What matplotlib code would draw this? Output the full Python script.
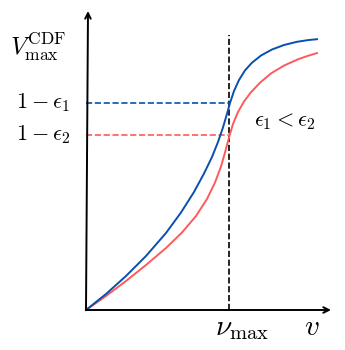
import matplotlib.pyplot as plt

plt.rcParams['mathtext.fontset'] = 'cm'

# curve points (origin at the axes corner)
blue_x = [0, 20, 40, 60, 80, 95, 108, 118, 126, 132, 137, 141, 144, 148, 153, 159, 166, 175, 186, 198, 211, 222, 231]
blue_y = [0, 16, 34, 54, 77, 97.5, 118, 136.5, 153, 168, 182.6, 196.2, 207,
          219, 230, 239.6, 247.3, 254.5, 260.5, 265, 268.2, 269.9, 270.8]
red_x = [0, 20, 40, 60, 80, 96, 110, 121, 129, 135, 139, 143, 147, 152, 158, 165, 174, 185, 198, 212, 222, 231]
red_y = [0, 14, 29, 45, 62, 77.5, 94, 111, 127.5, 143.5, 157.5, 172.5,
         186, 198, 208.5, 217.8, 227.3, 236.6, 244.4, 250.7, 254.2, 256.9]

nu_max = 143
level1 = 207
level2 = 175
blue = '#0a4fae'
red = '#ff5a5a'

fig = plt.figure(figsize=(3.45, 3.5), dpi=100)
ax = fig.add_axes([0, 0, 1, 1])
ax.set_xlim(-86, 259)
ax.set_ylim(-40, 310)
ax.axis('off')

# axes with arrows
ax.annotate('', xy=(245, 0), xytext=(0, 0),
            arrowprops=dict(arrowstyle='->', lw=1.4, color='black', shrinkA=0, shrinkB=0))
ax.annotate('', xy=(2, 299), xytext=(0, 0),
            arrowprops=dict(arrowstyle='->', lw=1.4, color='black', shrinkA=0, shrinkB=0))

# dashed guides
ax.plot([nu_max, nu_max], [0, 275], color='black', ls='--', lw=1.2)
ax.plot([0, nu_max], [level1, level1], color=blue, ls='--', lw=1.2)
ax.plot([0, nu_max], [level2, level2], color=red, ls='--', lw=1.2)

# curves
ax.plot(red_x, red_y, color=red, lw=1.4, solid_joinstyle='round')
ax.plot(blue_x, blue_y, color=blue, lw=1.4, solid_joinstyle='round')

# labels
ax.text(-48, 263, r'$V_{\max}^{\mathrm{CDF}}$', fontsize=18, ha='center', va='center')
ax.text(-16, 207, r'$1-\epsilon_1$', fontsize=16, ha='right', va='center')
ax.text(-16, 175, r'$1-\epsilon_2$', fontsize=16, ha='right', va='center')
ax.text(199, 188, r'$\epsilon_1 < \epsilon_2$', fontsize=16, ha='center', va='center')
ax.text(156, -18, r'$\nu_{\max}$', fontsize=21, ha='center', va='center')
ax.text(226, -17, r'$v$', fontsize=21, ha='center', va='center')

fig.savefig('out.png', dpi=100)
